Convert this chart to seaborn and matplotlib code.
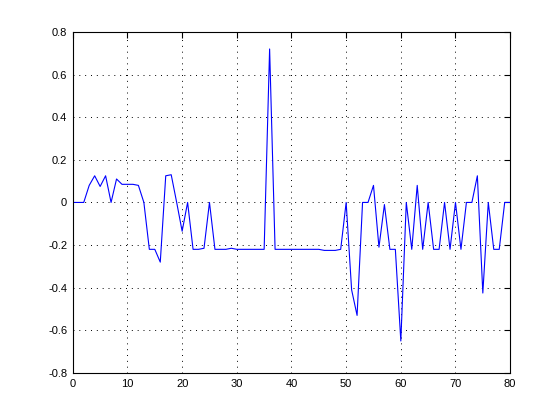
import numpy as np
import matplotlib
matplotlib.use('Agg')
import matplotlib.pyplot as plt
import pandas as pd
import seaborn as sns

# valores (x = 0..80)
x_vals = list(range(0, 81))
y_vals = [
    0, 0, 0, 0.08, 0.125, 0.075, 0.125, 0, 0.11, 0.085,
    0.085, 0.085, 0.08, 0, -0.22, -0.22, -0.28, 0.125, 0.13, 0,
    -0.135, 0, -0.22, -0.22, -0.215, 0, -0.22, -0.22, -0.22, -0.215,
    -0.22, -0.22, -0.22, -0.22, -0.22, -0.22, 0.72, -0.22, -0.22, -0.22,
    -0.22, -0.22, -0.22, -0.22, -0.22, -0.22, -0.225, -0.225, -0.225, -0.22,
    0, -0.41, -0.53, 0, 0, 0.08, -0.21, -0.01, -0.22, -0.22,
    -0.65, 0, -0.22, 0.08, -0.22, 0, -0.22, -0.22, 0, -0.22,
    0, -0.22, 0, 0, 0.125, -0.425, 0, -0.22, -0.22, 0,
    0,
]

df = pd.DataFrame({'x': x_vals, 'y': y_vals})

sns.set_style('white')
plt.rcParams['font.family'] = ['Liberation Sans', 'DejaVu Sans']

fig = plt.figure(figsize=(5.6, 4.2), dpi=100)
ax = fig.add_axes([0.13, 0.112, 0.781, 0.812])

sns.lineplot(data=df, x='x', y='y', ax=ax, color=(0, 0, 1), linewidth=0.8)

ax.set_xlim(0, 80)
ax.set_ylim(-0.8, 0.8)
ax.set_xticks(np.arange(0, 81, 10))
ax.set_yticks(np.round(np.arange(-0.8, 0.81, 0.2), 1))
ax.set_yticklabels(['-0.8', '-0.6', '-0.4', '-0.2', '0', '0.2', '0.4', '0.6', '0.8'])
ax.set_xlabel('')
ax.set_ylabel('')

# rejilla punteada estilo MATLAB
ax.grid(True, linestyle=(0, (1, 5)), color='black', linewidth=0.7)
ax.tick_params(direction='in', top=True, right=True, length=4, width=0.8,
               labelsize=8, colors='black', pad=4)
for s in ax.spines.values():
    s.set_color('black')
    s.set_linewidth(0.8)

fig.savefig('out.png', dpi=100, facecolor='white')
